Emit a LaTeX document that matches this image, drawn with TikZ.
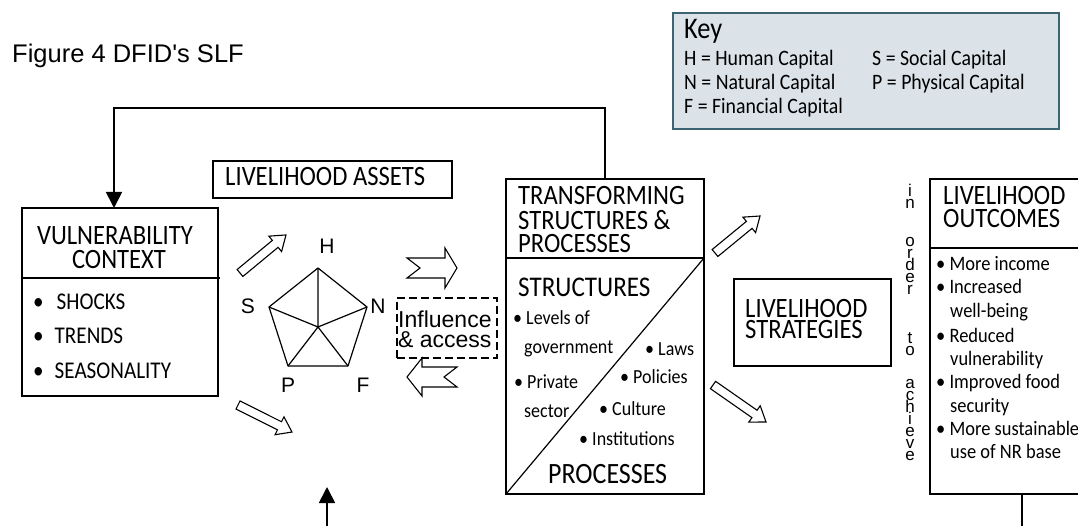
\documentclass[tikz,border=0pt]{standalone}
\usepackage{fontspec}
\setmainfont{Liberation Sans}
\newfontfamily\arialf{Liberation Sans}
\newfontfamily\hdfont[FakeStretch=0.88]{Carlito}
\newfontfamily\smfont[FakeStretch=0.9]{Carlito}
\usetikzlibrary{arrows.meta,calc}
\definecolor{keyfill}{RGB}{220,227,232}
\definecolor{keyedge}{RGB}{60,100,115}
\newcommand\blkarrow[3]{\draw[barrow, shift={#1}, rotate=#2] (0,-4.5) -- (#3-14,-4.5) -- (#3-14,-10) -- (#3,0) -- (#3-14,10) -- (#3-14,4.5) -- (0,4.5) -- cycle;}
\newcommand\vertwords{\vbox{\baselineskip=12pt\lineskiplimit=-30pt\lineskip=0pt\halign{\hfil##\hfil\cr i\cr n\cr\noalign{\vskip26pt}o\cr r\cr d\cr e\cr r\cr\noalign{\vskip37pt}t\cr o\cr\noalign{\vskip21pt}a\cr c\cr h\cr i\cr e\cr v\cr e\cr}}}
\begin{document}
\begin{tikzpicture}[x=1pt,y=-1pt,
  box/.style={draw, line width=1.2pt, inner sep=0pt, outer sep=0pt},
  hd/.style={font=\hdfont\fontsize{28}{30}\selectfont, inner sep=0pt, anchor=base west},
  hdm/.style={font=\hdfont\fontsize{28.5}{30}\selectfont, inner sep=0pt, anchor=base west},
  vcb/.style={font=\hdfont\fontsize{24}{26}\selectfont, inner sep=0pt, anchor=base west},
  sm/.style={font=\smfont\fontsize{20}{22}\selectfont, inner sep=0pt, anchor=base west},
  oc/.style={font=\smfont\fontsize{20.5}{22}\selectfont, inner sep=0pt, anchor=base west},
  keyt/.style={font=\smfont\fontsize{22}{24}\selectfont, inner sep=0pt, anchor=base west},
  letter/.style={font=\arialf\fontsize{21}{23}\selectfont, inner sep=0pt},
  fb/.style={line width=1.8pt},
  barrow/.style={draw, fill=white, line width=1.1pt, line join=miter},
  tipA/.style={-{Triangle[length=16pt,width=16pt]}}
]
\useasboundingbox (0,0) rectangle (1078,526);
\fill[white] (0,0) rectangle (1078,526);

% title
\node[font=\arialf\fontsize{25.5}{27}\selectfont, inner sep=0pt, anchor=base west] (title) at (12,63) {Figure 4 DFID's SLF};

% key
\node[draw=keyedge, fill=keyfill, line width=1.6pt, inner sep=0pt, minimum width=386pt, minimum height=116pt] (key) at (866,71) {};
\node[font=\hdfont\fontsize{30}{32}\selectfont, inner sep=0pt, anchor=base west] (keyT) at (684,39) {Key};
\node[keyt] (k1) at (684,66) {H = Human Capital};
\node[keyt] (k2) at (684,90) {N = Natural Capital};
\node[keyt] (k3) at (684,114) {F = Financial Capital};
\node[keyt] (k4) at (872,66) {S = Social Capital};
\node[keyt] (k5) at (872,90) {P = Physical Capital};

% vulnerability context
\node[box, minimum width=196pt, minimum height=188pt] (vc) at (120,302) {};
\draw[line width=1.2pt] ([yshift=-70pt]vc.north west) -- ([yshift=-70pt,xshift=2pt]vc.north east);
\node[hd, anchor=base] (vc1) at (115,245) {VULNERABILITY};
\node[hd, anchor=base] (vc2) at (119,269) {CONTEXT};
\node[vcb] (vcs1) at (33,310) {\textbullet\hspace{13pt}SHOCKS};
\node[vcb] (vcs2) at (33,343) {\textbullet\hspace{11pt}TRENDS};
\node[vcb] (vcs3) at (33,378) {\textbullet\hspace{11pt}SEASONALITY};

% livelihood assets
\node[box, minimum width=239pt, minimum height=37pt] (la) at (332.5,179.5) {};
\node[hd] (laT) at (225,186) {LIVELIHOOD ASSETS};

% pentagon
\coordinate (pH) at (318,268);
\coordinate (pS) at (269,307);
\coordinate (pN) at (367,307);
\coordinate (pP) at (288,366);
\coordinate (pF) at (348,366);
\coordinate (pC) at (318,327);
\draw[line width=1.2pt, line join=round] (pH) -- (pN) -- (pF) -- (pP) -- (pS) -- cycle;
\draw[line width=1.2pt] (pC) -- (pH) (pC) -- (pN) (pC) -- (pF) (pC) -- (pP) (pC) -- (pS);
\node[letter] (lH) at (327,246) {H};
\node[letter] (lS) at (248,306) {S};
\node[letter] (lN) at (378,306) {N};
\node[letter] (lP) at (288,385) {P};
\node[letter] (lF) at (363,385) {F};

% diagonal block arrows
\blkarrow{(240,273)}{39.6}{59.7}
\blkarrow{(238,405)}{-26.6}{60.4}
\blkarrow{(715,253)}{39.4}{58.3}
\blkarrow{(713,385)}{-34.9}{64.6}

% horizontal notched arrows
\draw[barrow] (407,258) -- (445,258) -- (445,248) -- (457,268) -- (445,288) -- (445,278) -- (407,278) -- (420,268) -- cycle;
\draw[barrow] (407,377) -- (422,358) -- (422,367) -- (457,367) -- (444,377) -- (457,387) -- (422,387) -- (422,396) -- cycle;

% influence & access
\node[draw, dash pattern=on 8pt off 4pt, line width=2pt, inner sep=0pt, minimum width=100pt, minimum height=60pt] (ia) at (447,328) {};
\node[font=\arialf\fontsize{23}{25}\selectfont, inner sep=0pt, anchor=base west] (ia1) at (398,327) {Influence};
\node[font=\arialf\fontsize{23}{25}\selectfont, inner sep=0pt, anchor=base west] (ia2) at (398,348) {\& access};

% transforming structures & processes
\node[box, minimum width=198pt, minimum height=315pt] (tsp) at (605,336.5) {};
\draw[line width=1.2pt] ([yshift=-79pt]tsp.north west) -- ([yshift=-79pt]tsp.north east);
\draw[line width=1.2pt] (tsp.south west) -- ([yshift=-79pt]tsp.north east);
\node[hd] (t1) at (518,205) {TRANSFORMING};
\node[hd] (t2) at (518,230) {STRUCTURES \&};
\node[hd] (t3) at (518,253) {PROCESSES};
\node[hdm] (st) at (518,297) {STRUCTURES};
\node[hdm, font=\hdfont\fontsize{29.5}{31}\selectfont] (pr) at (548,483) {PROCESSES};
\node[sm] (s1) at (513,325) {\textbullet\ Levels of};
\node[sm] (s2) at (524,353) {government};
\node[sm] (s3) at (514,388) {\textbullet\ Private};
\node[sm] (s4) at (524,417) {sector};
\node[sm] (p1) at (645,355) {\textbullet\ Laws};
\node[sm] (p2) at (620,383) {\textbullet\ Policies};
\node[sm] (p3) at (599,415) {\textbullet\ Culture};
\node[sm] (p4) at (579,445) {\textbullet\ Institutions};

% livelihood strategies
\node[box, minimum width=157pt, minimum height=87pt] (ls) at (812.5,322.5) {};
\node[hd] (ls1) at (745,317) {LIVELIHOOD};
\node[hd] (ls2) at (745,338) {STRATEGIES};

% vertical text
\node[font=\arialf\fontsize{17}{12}\selectfont, inner sep=0pt, anchor=north] (vtext) at (910,184) {\vertwords};

% livelihood outcomes
\node[box, minimum width=184pt, minimum height=315pt] (oc) at (1022,336.5) {};
\draw[line width=1.2pt] ([yshift=-69pt]oc.north west) -- ([yshift=-69pt]oc.north east);
\node[hd] (o1) at (943,205) {LIVELIHOOD};
\node[hd] (o2) at (943,228) {OUTCOMES};
\node[oc] (ob1) at (936,271) {\textbullet\ More income};
\node[oc] (ob2) at (936,294) {\textbullet\ Increased};
\node[oc] (ob3) at (950,317) {well-being};
\node[oc] (ob4) at (936,342) {\textbullet\ Reduced};
\node[oc] (ob5) at (950,365) {vulnerability};
\node[oc] (ob6) at (936,388) {\textbullet\ Improved food};
\node[oc] (ob7) at (950,412) {security};
\node[oc] (ob8) at (936,435) {\textbullet\ More sustainable};
\node[oc] (ob9) at (950,458) {use of NR base};

% connectors
\coordinate (fbL) at (114,108);
\draw[fb, tipA] (tsp.north) |- (fbL) -- (fbL |- vc.north);
\coordinate (bu0) at (327,530);
\coordinate (bu1) at (327,487);
\draw[fb, tipA] (bu0) -- (bu1);
\coordinate (ocb) at (1022,530);
\draw[fb] (oc.south) -- (ocb);
\end{tikzpicture}
\end{document}
